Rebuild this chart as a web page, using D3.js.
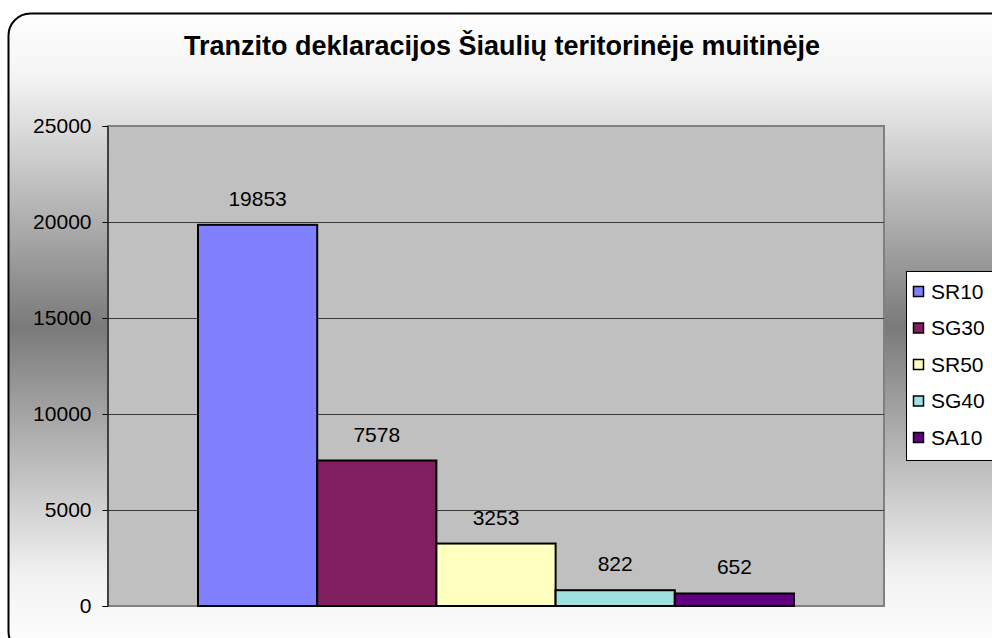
<!DOCTYPE html>
<html>
<head>
<meta charset="utf-8">
<script src="https://cdnjs.cloudflare.com/ajax/libs/d3/7.8.5/d3.min.js"></script>
<style>
body { margin: 0; background: #fff; }
svg { display: block; font-family: "Liberation Sans", Arial, sans-serif; }
</style>
</head>
<body>
<svg width="992" height="638"></svg>
<script>
var title = "Tranzito deklaracijos Šiaulių teritorinėje muitinėje";
var series = ["SR10", "SG30", "SR50", "SG40", "SA10"];
var values = [19853, 7578, 3253, 822, 652];
var colors = ["#8080ff", "#802060", "#ffffc0", "#a0e0e0", "#600080"];
var yTicks = [0, 5000, 10000, 15000, 20000, 25000];

var svg = d3.select("svg");
var plotLeft = 108, plotRight = 884, plotTop = 126, plotBottom = 606;

// background gradient
var defs = svg.append("defs");
var grad = defs.append("linearGradient").attr("id", "bg")
    .attr("x1", 0).attr("y1", 0).attr("x2", 0).attr("y2", 1);
grad.append("stop").attr("offset", "0").attr("stop-color", "#ffffff");
grad.append("stop").attr("offset", "0.1").attr("stop-color", "#f4f4f4");
grad.append("stop").attr("offset", "0.49").attr("stop-color", "#7a7a7a");
grad.append("stop").attr("offset", "0.88").attr("stop-color", "#f2f2f2");
grad.append("stop").attr("offset", "1").attr("stop-color", "#ffffff");

svg.append("rect")
    .attr("x", 8.5).attr("y", 13.5)
    .attr("width", 1010).attr("height", 640)
    .attr("rx", 22).attr("ry", 22)
    .attr("fill", "url(#bg)")
    .attr("stroke", "#000").attr("stroke-width", 2);

svg.append("text")
    .attr("x", 502).attr("y", 55)
    .attr("text-anchor", "middle")
    .attr("font-size", 27).attr("font-weight", "bold")
    .text(title);

var y = d3.scaleLinear().domain([0, 25000]).range([plotBottom, plotTop]);
var x = d3.scaleBand().domain(series).range([plotLeft + 90, plotRight - 90]).padding(0);

// plot area
svg.append("rect")
    .attr("x", plotLeft).attr("y", plotTop)
    .attr("width", plotRight - plotLeft).attr("height", plotBottom - plotTop)
    .attr("fill", "#c0c0c0").attr("stroke", "#808080").attr("stroke-width", 2);

svg.append("g").selectAll("line")
    .data(yTicks.filter(function (d) { return d > 0 && d < 25000; }))
    .enter().append("line")
    .attr("x1", plotLeft).attr("x2", plotRight)
    .attr("y1", function (d) { return Math.round(y(d)) + 0.5; })
    .attr("y2", function (d) { return Math.round(y(d)) + 0.5; })
    .attr("stroke", "#3a3a3a").attr("stroke-width", 1);

var yAxis = svg.append("g")
    .attr("transform", "translate(" + (plotLeft - 0.5) + ",0)")
    .call(d3.axisLeft(y).tickValues(yTicks).tickSize(5).tickPadding(11).tickFormat(d3.format("d")));
yAxis.select(".domain").attr("stroke", "#000").attr("stroke-width", 1);
yAxis.selectAll(".tick line").attr("stroke", "#000");
yAxis.selectAll(".tick text")
    .attr("font-size", 21).attr("fill", "#000")
    .attr("font-family", "Liberation Sans, Arial, sans-serif");

// bars
svg.append("g").selectAll("rect")
    .data(values)
    .enter().append("rect")
    .attr("x", function (d, i) { return x(series[i]); })
    .attr("y", function (d) { return y(d); })
    .attr("width", x.bandwidth())
    .attr("height", function (d) { return plotBottom - y(d); })
    .attr("fill", function (d, i) { return colors[i]; })
    .attr("stroke", "#000").attr("stroke-width", 2);

svg.append("g").selectAll("text")
    .data(values)
    .enter().append("text")
    .attr("x", function (d, i) { return x(series[i]) + x.bandwidth() / 2; })
    .attr("y", function (d) { return y(d) - 19; })
    .attr("text-anchor", "middle")
    .attr("font-size", 21)
    .text(function (d) { return d; });

// legend
var legend = svg.append("g");
legend.append("rect")
    .attr("x", 906.5).attr("y", 271.5)
    .attr("width", 100).attr("height", 189)
    .attr("fill", "#fff").attr("stroke", "#000").attr("stroke-width", 1);

var items = legend.selectAll("g.item")
    .data(series)
    .enter().append("g")
    .attr("transform", function (d, i) { return "translate(0," + (291.5 + i * 36.5) + ")"; });
items.append("rect")
    .attr("x", 913.5).attr("y", -5)
    .attr("width", 10).attr("height", 10)
    .attr("fill", function (d, i) { return colors[i]; })
    .attr("stroke", "#000").attr("stroke-width", 1.5);
items.append("text")
    .attr("x", 931).attr("y", 7)
    .attr("font-size", 21)
    .text(function (d) { return d; });
</script>
</body>
</html>
